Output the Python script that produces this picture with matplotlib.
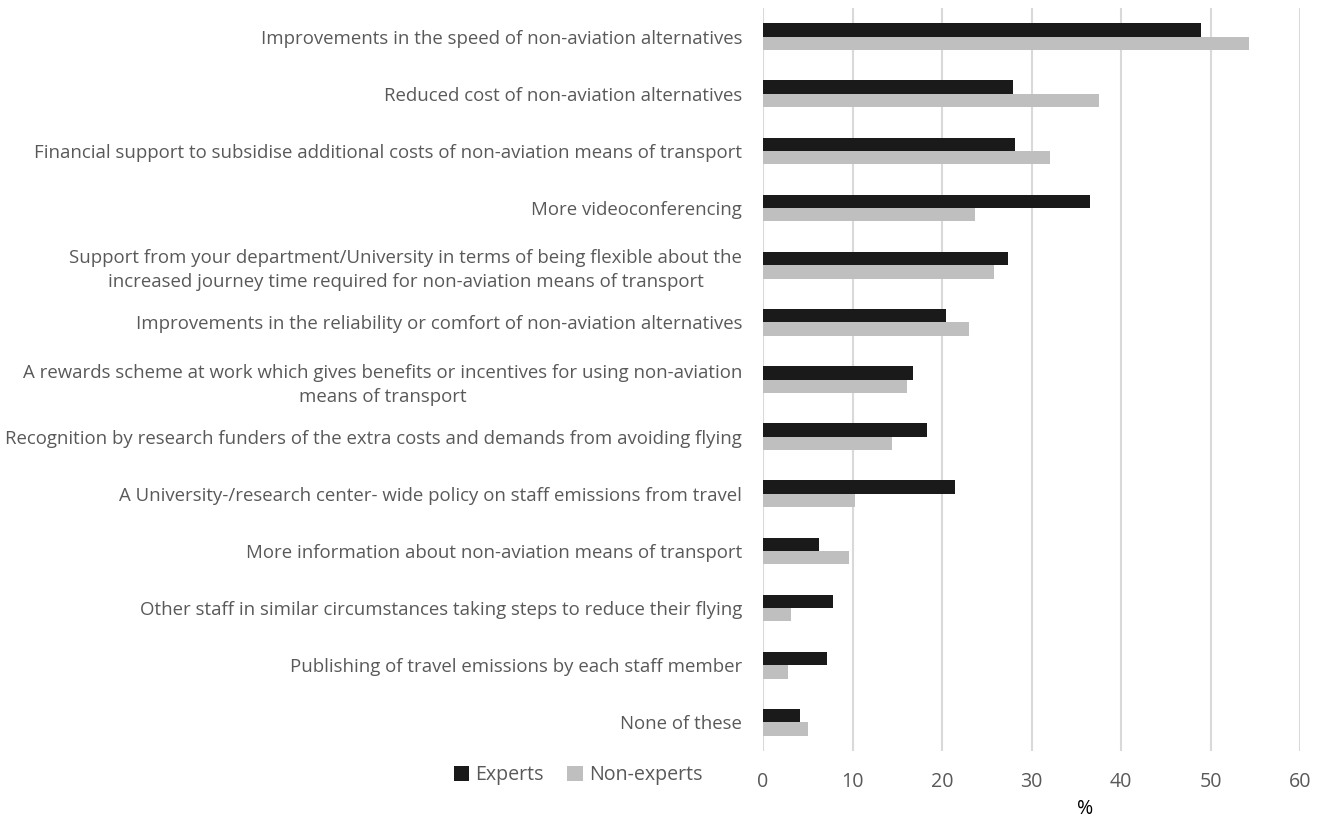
import matplotlib
matplotlib.use("Agg")
import matplotlib.pyplot as plt
from matplotlib.patches import Patch
import numpy as np

categories = [
    "Improvements in the speed of non-aviation alternatives",
    "Reduced cost of non-aviation alternatives",
    "Financial support to subsidise additional costs of non-aviation means of transport",
    "More videoconferencing",
    "Support from your department/University in terms of being flexible about the\nincreased journey time required for non-aviation means of transport",
    "Improvements in the reliability or comfort of non-aviation alternatives",
    "A rewards scheme at work which gives benefits or incentives for using non-aviation\nmeans of transport",
    "Recognition by research funders of the extra costs and demands from avoiding flying",
    "A University-/research center- wide policy on staff emissions from travel",
    "More information about non-aviation means of transport",
    "Other staff in similar circumstances taking steps to reduce their flying",
    "Publishing of travel emissions by each staff member",
    "None of these",
]
experts = [48.9, 27.9, 28.2, 36.5, 27.4, 20.5, 16.8, 18.3, 21.5, 6.3, 7.8, 7.2, 4.1]
non_experts = [54.3, 37.5, 32.1, 23.7, 25.8, 23.0, 16.1, 14.4, 10.3, 9.6, 3.1, 2.8, 5.0]
xticks = [0, 10, 20, 30, 40, 50, 60]
series_names = ["Experts", "Non-experts"]

plt.rcParams['font.family'] = ['Liberation Sans Narrow', 'Open Sans', 'DejaVu Sans']
TXT = "#595959"
C_EXP = "#1a1a1a"
C_NON = "#bfbfbf"

W, H = 1329, 819
fig = plt.figure(figsize=(W/100, H/100), dpi=100)
ax = fig.add_axes([763/W, 1-751/H, (1300-763)/W, (751-8)/H])

# fit font size to reference label width
renderer = fig.canvas.get_renderer()
probe = fig.text(0, 0, categories[2], fontsize=12)
wpx = probe.get_window_extent(renderer).width
probe.remove()
fs = 12 * 705 / wpx

y = np.arange(len(categories))
h = 0.233
ax.barh(y - h/2, experts, height=h, color=C_EXP, label=series_names[0], zorder=3)
ax.barh(y + h/2, non_experts, height=h, color=C_NON, label=series_names[1], zorder=3)

ax.set_xlim(0, 60)
ax.set_ylim(len(categories) - 0.5, -0.5)
ax.set_xticks(xticks)
ax.set_xticklabels([str(t) for t in xticks], color=TXT, fontsize=fs*1.05)
ax.set_yticks(y)
ax.set_yticklabels(categories, color=TXT, fontsize=fs, multialignment='center', linespacing=1.45)
ax.tick_params(axis='y', length=0, pad=15)
ax.tick_params(axis='x', length=0, pad=15)
ax.grid(axis='x', color='#d9d9d9', linewidth=1.5, zorder=0)
for s in ax.spines.values():
    s.set_visible(False)

fig.text(1085/W, 1-809/H, "%", ha='center', va='center', fontsize=fs*1.05, color='black')

handles = [Patch(facecolor=C_EXP, edgecolor='none'), Patch(facecolor=C_NON, edgecolor='none')]
fig.legend(handles, series_names, loc='center', bbox_to_anchor=(578/W, 1-775/H),
           ncol=2, frameon=False, fontsize=fs*1.05, labelcolor=TXT,
           handlelength=0.8, handleheight=0.8, handletextpad=0.3, columnspacing=1.2)

fig.savefig("out.png", dpi=100)
